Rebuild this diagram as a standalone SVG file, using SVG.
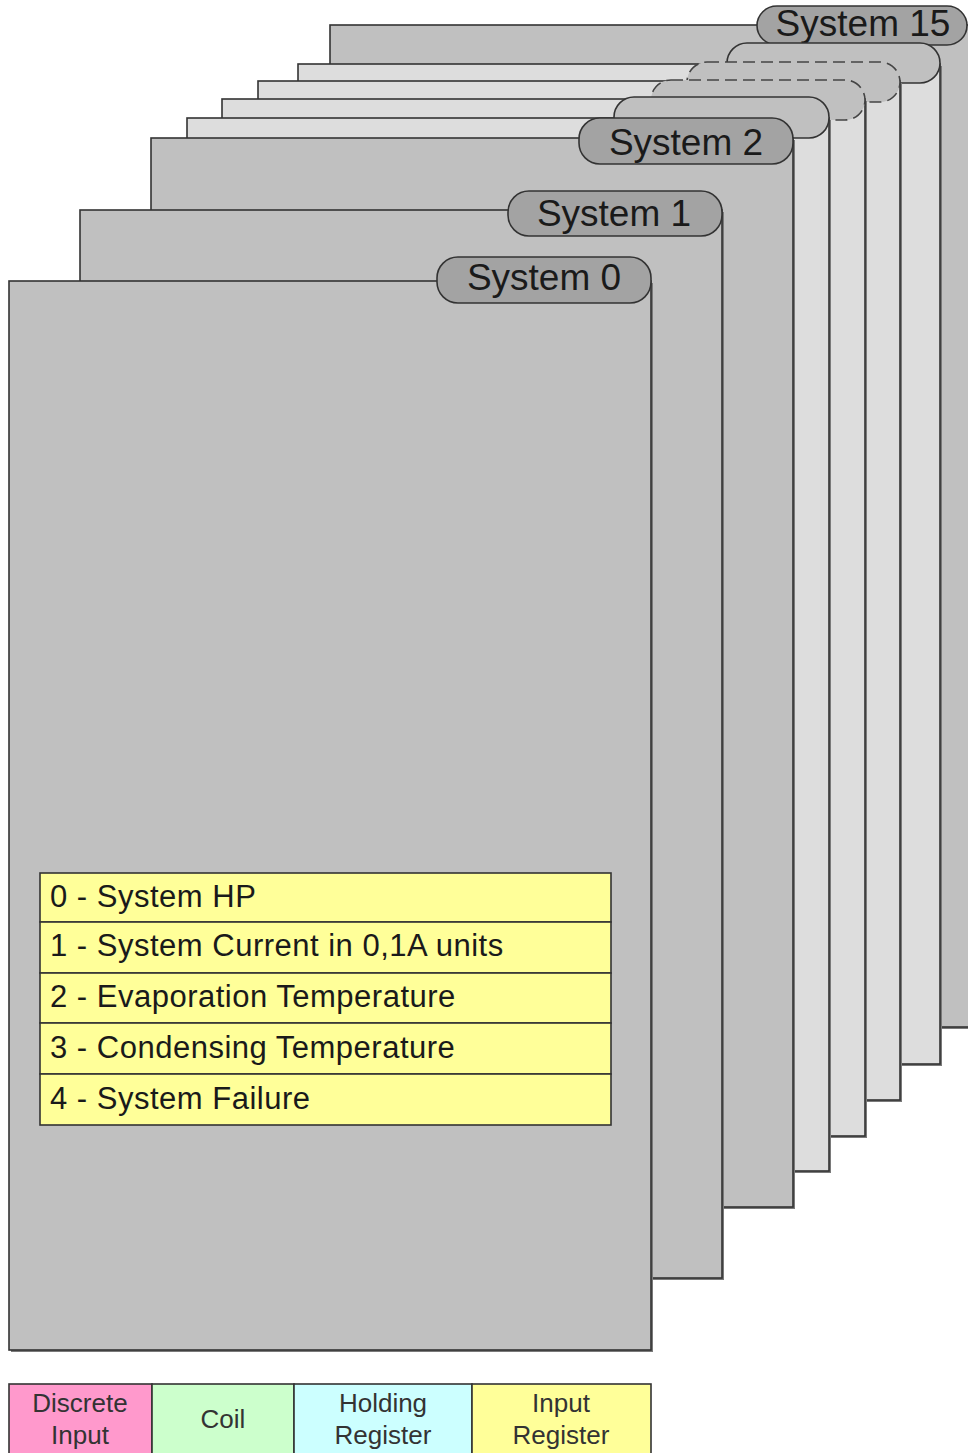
<svg xmlns="http://www.w3.org/2000/svg" width="968" height="1453" viewBox="0 0 968 1453">
<style>
.sheet{stroke:#333;stroke-width:1.6}
.dark{fill:#c0c0c0}
.light{fill:#dddddd}
.shadow{fill:#7a7a7a}
.tab{stroke:#333;stroke-width:1.6}
.tabn{fill:#a3a3a3}
.tabu{fill:#c0c0c0}
.dash{stroke-dasharray:12 6;stroke:#444}
.tt{font-family:"Liberation Sans",Arial,sans-serif;font-size:37px;fill:#1a1a1a;text-anchor:middle}
.row{fill:#ffff99;stroke:#333;stroke-width:1.6}
.rt{font-family:"Liberation Sans",Arial,sans-serif;font-size:31px;fill:#1a1a1a;letter-spacing:0.5px}
.lg{stroke:#333;stroke-width:1.6}
.lt{font-family:"Liberation Sans",Arial,sans-serif;font-size:26px;fill:#333;text-anchor:middle}
</style>
<g id="system15">
<rect class="shadow" x="332" y="27" width="700" height="1002"/>
<rect class="sheet dark" x="330" y="25" width="700" height="1002"/>
<rect class="tab tabn" x="757" y="6" width="210" height="39" rx="20" ry="19.5"/>
<text class="tt" x="863" y="36">System 15</text>
</g>
<g id="system14">
<rect class="shadow" x="300" y="66" width="642" height="1000"/>
<rect class="sheet light" x="298" y="64" width="642" height="1000"/>
<rect class="tab tabu" x="727" y="43" width="213" height="40" rx="20" ry="20"/>
</g>
<g id="system13">
<rect class="shadow" x="260" y="83" width="642" height="1019"/>
<rect class="sheet light" x="258" y="81" width="642" height="1019"/>
<rect class="tab tabu dash" x="687" y="62" width="213" height="40" rx="20" ry="20"/>
</g>
<g id="system12">
<rect class="shadow" x="224" y="101" width="643" height="1037"/>
<rect class="sheet light" x="222" y="99" width="643" height="1037"/>
<rect class="tab tabu dash" x="651" y="80" width="214" height="40" rx="20" ry="20"/>
</g>
<g id="system11">
<rect class="shadow" x="189" y="120" width="642" height="1053"/>
<rect class="sheet light" x="187" y="118" width="642" height="1053"/>
<rect class="tab tabu" x="614" y="97" width="215" height="41" rx="20" ry="20"/>
</g>
<g id="system2">
<rect class="shadow" x="153" y="140" width="642" height="1069"/>
<rect class="sheet dark" x="151" y="138" width="642" height="1069"/>
<rect class="tab tabn" x="579" y="118" width="214" height="46" rx="21" ry="21"/>
<text class="tt" x="686" y="155">System 2</text>
</g>
<g id="system1">
<rect class="shadow" x="82" y="212" width="642" height="1068"/>
<rect class="sheet dark" x="80" y="210" width="642" height="1068"/>
<rect class="tab tabn" x="508" y="191" width="214" height="45" rx="21" ry="21"/>
<text class="tt" x="614" y="226">System 1</text>
</g>
<g id="system0">
<rect class="shadow" x="11" y="283" width="642" height="1069"/>
<rect class="sheet dark" x="9" y="281" width="642" height="1069"/>
<rect class="tab tabn" x="437" y="257" width="214" height="46" rx="21" ry="21"/>
<text class="tt" x="544" y="290">System 0</text>
</g>
<g id="registers">
<rect class="row" x="40" y="873" width="571" height="49"/>
<rect class="row" x="40" y="922" width="571" height="51"/>
<rect class="row" x="40" y="973" width="571" height="50"/>
<rect class="row" x="40" y="1023" width="571" height="51"/>
<rect class="row" x="40" y="1074" width="571" height="51"/>
<text class="rt" x="50" y="907">0 - System HP</text>
<text class="rt" x="50" y="956">1 - System Current in 0,1A units</text>
<text class="rt" x="50" y="1007">2 - Evaporation Temperature</text>
<text class="rt" x="50" y="1058">3 - Condensing Temperature</text>
<text class="rt" x="50" y="1109">4 - System Failure</text>
</g>
<g id="legend">
<rect class="lg" x="9" y="1384" width="143" height="80" fill="#ff99cc"/>
<rect class="lg" x="152" y="1384" width="142" height="80" fill="#ccffcc"/>
<rect class="lg" x="294" y="1384" width="178" height="80" fill="#ccffff"/>
<rect class="lg" x="472" y="1384" width="179" height="80" fill="#ffff99"/>
<text class="lt" x="80" y="1412">Discrete</text>
<text class="lt" x="80" y="1444">Input</text>
<text class="lt" x="223" y="1428">Coil</text>
<text class="lt" x="383" y="1412">Holding</text>
<text class="lt" x="383" y="1444">Register</text>
<text class="lt" x="561" y="1412">Input</text>
<text class="lt" x="561" y="1444">Register</text>
</g>
<g id="connectors"></g>
</svg>
